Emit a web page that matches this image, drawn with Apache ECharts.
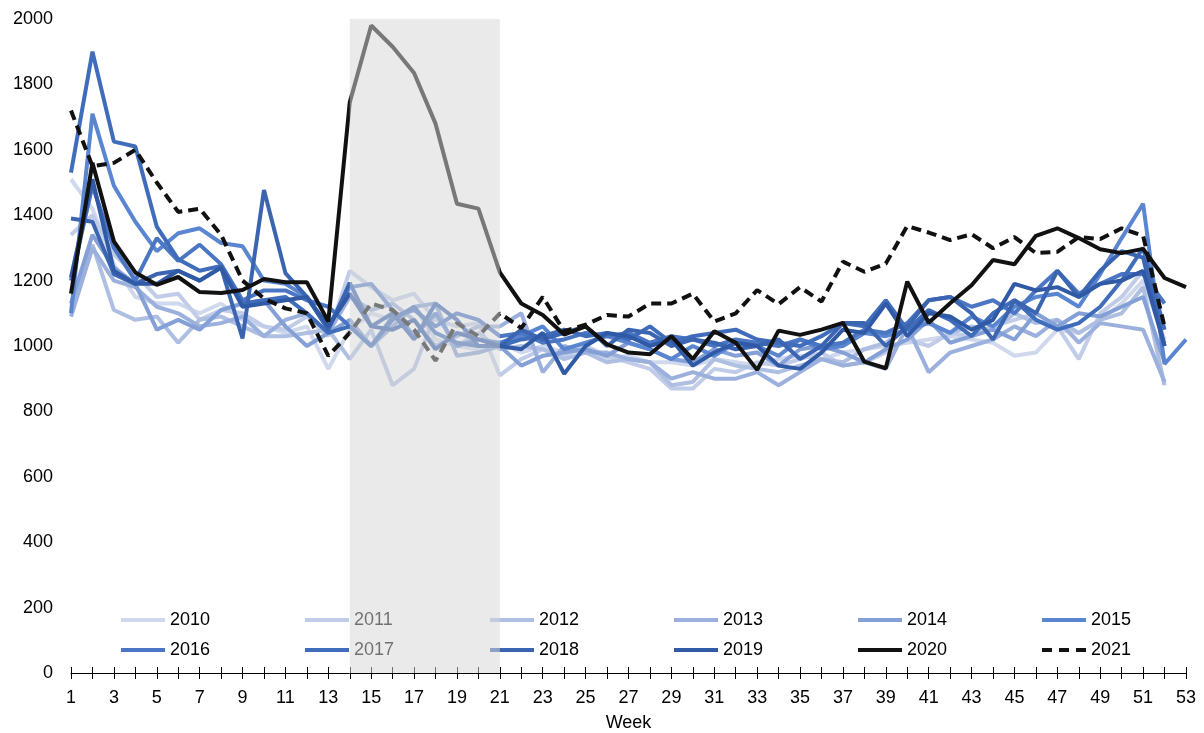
<!DOCTYPE html>
<html>
<head>
<meta charset="utf-8">
<script src="https://cdn.jsdelivr.net/npm/echarts@6/dist/echarts.min.js"></script>
<style>html,body{margin:0;padding:0;background:#fff}#c{width:1204px;height:733px}</style>
</head>
<body>
<div id="c"></div>
<script>
const weeks = ['1','2','3','4','5','6','7','8','9','10','11','12','13','14','15','16','17','18','19','20','21','22','23','24','25','26','27','28','29','30','31','32','33','34','35','36','37','38','39','40','41','42','43','44','45','46','47','48','49','50','51','52','53'];
const yTicks = [0,200,400,600,800,1000,1200,1400,1600,1800,2000];
const shadeWeeks = ['14','21'];

const y2010 = [1510,1420,1250,1150,1130,1130,1100,1130,1080,1060,1040,1060,930,1050,1100,1080,1120,1020,1000,990,1010,980,1000,980,990,960,970,950,950,940,960,950,940,960,970,960,980,990,1000,1010,1020,1030,1020,1010,970,980,1050,1040,1080,1130,1200,1020];
const y2011 = [1340,1400,1280,1220,1150,1160,1080,1110,1100,1060,1050,1090,1030,1230,1180,1140,1160,1080,1060,1070,910,960,990,970,1000,970,950,930,870,870,930,920,950,940,960,980,940,950,980,1020,1000,1040,1030,1060,1080,1100,1060,960,1100,1150,1230,1010];
const y2012 = [1100,1310,1110,1080,1090,1010,1080,1090,1060,1030,1030,1040,1050,960,1050,880,930,1100,1000,1040,990,1000,990,960,980,950,960,950,880,890,960,940,930,920,940,960,950,990,1010,1060,1070,1040,1060,1050,1100,1070,1080,1040,1080,1100,1180,880];
const y2013 = [1090,1300,1200,1180,1120,1100,1060,1070,1090,1030,1080,1100,1040,1150,1110,1130,1080,1000,1030,1060,1060,1100,920,1000,980,980,960,950,900,920,900,900,920,880,920,960,940,950,930,1060,920,980,1000,1020,1060,1030,1080,1010,1070,1060,1050,890];
const y2014 = [1130,1340,1240,1190,1050,1080,1050,1110,1130,1140,1060,1000,1040,1080,1000,1060,1120,1130,970,980,1000,940,970,980,990,970,1010,990,960,950,990,970,980,940,990,1000,980,950,990,1020,1080,1010,1030,1050,1020,1100,1060,1100,1090,1120,1150,950];
const y2015 = [1100,1710,1490,1380,1290,1345,1360,1315,1305,1200,1190,1150,1060,1180,1190,1110,1030,1100,1000,1020,1010,1030,1060,990,1010,1030,1010,990,960,1000,970,1010,1000,970,1020,990,1000,1040,1030,1050,1070,1040,1090,1060,1120,1150,1160,1120,1220,1330,1435,945,1020];
const y2016 = [1200,1490,1300,1200,1330,1260,1310,1250,1140,1170,1170,1140,1120,1060,1000,1090,1110,1060,1100,1080,1030,1040,1010,1020,1040,1030,1040,1010,1030,1020,1000,1020,1010,1000,1020,1000,1010,1050,1040,1070,1140,1150,1120,1140,1100,1170,1230,1160,1190,1220,1220,1130];
const y2017 = [1530,1900,1625,1610,1365,1265,1230,1245,1130,1140,1150,1100,1040,1060,1000,1080,1120,1040,1010,1000,1000,1020,1030,1050,1030,1040,1020,1060,1010,1030,1040,1050,1020,1010,1000,1030,1070,1060,1140,1050,1110,1080,1030,1100,1140,1080,1050,1070,1120,1200,1300,1050];
const y2018 = [1390,1380,1220,1190,1220,1230,1200,1240,1023,1477,1223,1150,1049,1193,1060,1100,1020,1130,1080,1000,1000,1050,1020,1040,1060,1000,1050,1040,1000,1020,1010,990,1000,1020,960,1000,1070,1070,1000,1060,1140,1150,1100,1020,1140,1100,1230,1150,1230,1290,1270,1000];
const y2019 = [1210,1510,1230,1190,1190,1230,1200,1240,1120,1130,1140,1150,1060,1160,1060,1050,1080,990,1040,1020,1000,990,1040,915,1000,1040,1030,1000,1020,940,980,1010,1000,940,930,980,1050,1040,1130,1030,1100,1090,1050,1080,1190,1170,1180,1150,1190,1200,1230,1000];
const y2020 = [1160,1560,1320,1225,1187,1211,1165,1162,1171,1205,1195,1195,1075,1745,1980,1915,1835,1680,1435,1420,1225,1130,1095,1035,1060,1005,980,975,1030,960,1045,1010,927,1047,1034,1050,1071,952,932,1197,1071,1131,1186,1263,1250,1337,1360,1330,1296,1284,1297,1208,1180];
const y2021 = [1720,1550,1560,1600,1500,1410,1420,1340,1200,1145,1115,1100,970,1040,1130,1110,1050,955,1070,1030,1100,1055,1150,1045,1065,1095,1090,1130,1130,1160,1075,1100,1171,1128,1180,1136,1258,1227,1252,1367,1347,1324,1342,1299,1333,1284,1288,1333,1327,1360,1337,1059];

const years = ['2010','2011','2012','2013','2014','2015','2016','2017','2018','2019','2020','2021'];
const values = [y2010,y2011,y2012,y2013,y2014,y2015,y2016,y2017,y2018,y2019,y2020,y2021];
const colors = ['#cfd8ec','#c0cce8','#aebfe2','#9bb0dc','#84a0d6','#5a85d0','#4a76c4','#406dbb','#3b65b1','#3059a6','#111111','#111111'];

const font = '"Liberation Sans", Arial, sans-serif';
const solidIcon = 'path://M0,0h44v4h-44z';
const dashIcon = 'path://M0,0h10v4h-10z M17,0h10v4h-10z M34,0h10v4h-10z';

const series = years.map((y, i) => ({
  name: y,
  type: 'line',
  data: values[i],
  symbol: 'none',
  showSymbol: false,
  color: colors[i],
  lineStyle: {
    width: 4,
    color: colors[i],
    type: y === '2021' ? [10, 6] : 'solid'
  },
  z: 2 + i * 0.01
}));

const legendCols = [[0,6],[1,7],[2,8],[3,9],[4,10],[5,11]];
const legendLefts = [121,305,490,674,858,1042];
const legends = legendCols.map((c, k) => ({
  orient: 'vertical',
  left: legendLefts[k],
  top: 611,
  padding: 0,
  itemWidth: 44,
  itemHeight: 4,
  itemGap: 12,
  data: c.map(j => ({ name: years[j], icon: years[j] === '2021' ? dashIcon : solidIcon })),
  textStyle: { fontSize: 18, color: '#000', fontFamily: font }
}));

const chart = echarts.init(document.getElementById('c'), null, { renderer: 'canvas' });
chart.setOption({
  animation: false,
  backgroundColor: '#fff',
  grid: { left: 71, right: 18, top: 19, bottom: 60, containLabel: false, outerBoundsMode: 'none' },
  legend: legends,
  xAxis: [{
    type: 'category',
    data: weeks,
    boundaryGap: false,
    position: 'bottom',
    name: 'Week',
    nameLocation: 'middle',
    nameGap: 41,
    nameTextStyle: { fontSize: 18, color: '#000', fontFamily: font },
    axisLine: { show: true, lineStyle: { color: '#000', width: 1 } },
    axisTick: { show: true, interval: 0, length: 6, lineStyle: { color: '#000' } },
    axisLabel: { interval: 1, fontSize: 18, color: '#000', margin: 16, fontFamily: font },
    splitLine: { show: false }
  }, {
    type: 'category',
    data: weeks,
    boundaryGap: false,
    position: 'top',
    offset: -654,
    axisLine: { show: false },
    axisTick: { show: true, interval: 0, length: 6, lineStyle: { color: '#000' } },
    axisLabel: { show: false },
    splitLine: { show: false }
  }],
  yAxis: {
    type: 'value',
    min: yTicks[0],
    max: yTicks[yTicks.length - 1],
    interval: 200,
    axisLine: { show: false },
    axisTick: { show: false },
    splitLine: { show: false },
    axisLabel: { fontSize: 18, color: '#000', margin: 18, fontFamily: font, formatter: v => String(v) }
  },
  series: series
});

// shaded overlay computed through the axes' scales
const i0 = weeks.indexOf(shadeWeeks[0]);
const i1 = weeks.indexOf(shadeWeeks[1]);
const pTop = chart.convertToPixel({ xAxisIndex: 0, yAxisIndex: 0 }, [i0, yTicks[yTicks.length - 1]]);
const pBot = chart.convertToPixel({ xAxisIndex: 0, yAxisIndex: 0 }, [i1, yTicks[0]]);
chart.setOption({
  graphic: [{
    type: 'rect',
    z: 100,
    silent: true,
    shape: { x: pTop[0], y: pTop[1], width: pBot[0] - pTop[0], height: pBot[1] - pTop[1] },
    style: { fill: 'rgba(214,214,214,0.52)' }
  }]
});
</script>
</body>
</html>
